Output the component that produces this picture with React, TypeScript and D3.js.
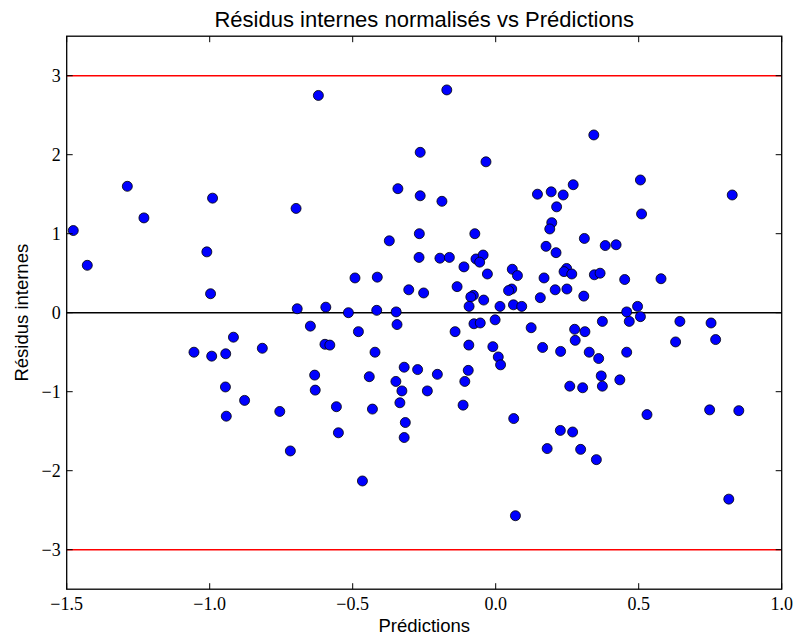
import React from 'react';
import * as d3 from 'd3';

// Predictions (x) and normalised internal residuals (y)
const predictions = [
  -1.477, -1.428, -1.288, -1.23, -0.99, -1.01, -0.997, -0.698, -0.694, -0.917,
  -1.055, -0.993, -0.944, -0.816, -0.945, -0.878, -0.942, -0.755, -0.718, -0.62,
  -0.171, -0.264, -0.034, -0.342, -0.264, -0.188, -0.372, -0.267, -0.073, 0.146,
  0.343, 0.506, 0.827, 0.51, 0.194, 0.236, 0.271, 0.213, 0.196, 0.189,
  0.31, 0.176, 0.383, 0.421, 0.211, -0.268, -0.195, -0.162, -0.111, -0.069,
  -0.044, -0.056, -0.029, -0.492, -0.414, -0.304, -0.252, -0.135, 0.058, 0.076,
  0.169, 0.056, 0.045, -0.078, -0.087, -0.042, -0.093, 0.015, 0.062, 0.091,
  0.156, -0.594, -0.515, -0.416, -0.348, -0.648, -0.345, -0.48, -0.142, -0.076,
  -0.054, -0.002, 0.124, 0.164, -0.597, -0.58, -0.422, -0.094, -0.01, 0.009,
  0.017, -0.32, -0.273, -0.204, -0.096, -0.633, -0.442, -0.349, -0.108, -0.631,
  -0.328, -0.239, -0.557, -0.431, -0.335, -0.114, 0.063, -0.316, -0.55, -0.32,
  -0.466, 0.069, 0.248, 0.239, 0.266, 0.345, 0.365, 0.451, 0.578, 0.208,
  0.249, 0.308, 0.496, 0.458, 0.506, 0.467, 0.373, 0.644, 0.753, 0.276,
  0.312, 0.278, 0.629, 0.769, 0.227, 0.327, 0.458, 0.36, 0.369, 0.434,
  0.259, 0.304, 0.373, 0.529, 0.748, 0.85, 0.226, 0.269, 0.18, 0.297,
  0.352, 0.815,
];
const residus = [
  1.04, 0.6, 1.6, 1.2, 1.45, 0.77, 0.24, 1.32, 0.05, -0.31,
  -0.5, -0.55, -0.52, -0.45, -0.94, -1.11, -1.31, -1.25, -1.75, 2.75,
  2.82, 2.03, 1.91, 1.57, 1.48, 1.41, 0.91, 1.0, 1.0, 1.5,
  2.25, 1.68, 1.49, 1.25, 1.53, 1.49, 1.62, 1.34, 1.14, 1.06,
  0.94, 0.84, 0.85, 0.86, 0.76, 0.7, 0.69, 0.7, 0.58, 0.68,
  0.73, 0.64, 0.49, 0.44, 0.45, 0.29, 0.25, 0.33, 0.55, 0.47,
  0.44, 0.3, 0.28, 0.22, 0.2, 0.16, 0.08, 0.08, 0.1, 0.08,
  0.19, 0.07, 0.0, 0.03, 0.01, -0.17, -0.15, -0.24, -0.24, -0.14,
  -0.13, -0.09, -0.19, -0.44, -0.4, -0.41, -0.5, -0.41, -0.43, -0.56,
  -0.66, -0.69, -0.72, -0.78, -0.73, -0.79, -0.81, -0.87, -0.87, -0.98,
  -0.99, -0.99, -1.19, -1.22, -1.14, -1.17, -1.34, -1.39, -1.52, -1.58,
  -2.13, -2.57, 0.56, 0.52, 0.49, 0.48, 0.5, 0.42, 0.43, 0.29,
  0.3, 0.21, 0.08, 0.01, -0.05, -0.11, -0.11, -0.11, -0.13, -0.21,
  -0.24, -0.35, -0.37, -0.34, -0.49, -0.5, -0.5, -0.58, -0.8, -0.85,
  -0.93, -0.95, -0.93, -1.29, -1.23, -1.24, -1.49, -1.51, -1.72, -1.73,
  -1.86, -2.36,
];

const xTicks = [-1.5, -1.0, -0.5, 0.0, 0.5, 1.0];
const yTicks = [-3, -2, -1, 0, 1, 2, 3];
const limits = [-3, 3];

const W = 795;
const H = 637;
const left = 66.7;
const right = 781.7;
const top = 36.2;
const bottom = 589.2;

const App: React.FC = () => {
  const x = d3.scaleLinear().domain([-1.5, 1.0]).range([left, right]);
  const y = d3.scaleLinear().domain([-3.5, 3.5]).range([bottom, top]);
  const tickLen = 6;
  const serif = '"Liberation Serif", "DejaVu Serif", serif';
  const sans = '"Liberation Sans", Arial, sans-serif';
  const fmtMinus = (s: string) => s.replace('-', '\u2212');

  return (
    <svg width={W} height={H} style={{ position: 'absolute', left: 0, top: 0, background: '#fff' }}>
      {/* reference lines */}
      {limits.map((v) => (
        <line key={'lim' + v} x1={left} x2={right} y1={y(v)} y2={y(v)} stroke="#ff0000" strokeWidth={1.5} />
      ))}
      <line x1={left} x2={right} y1={y(0)} y2={y(0)} stroke="#000" strokeWidth={1.5} />

      {/* points */}
      {predictions.map((p, i) => (
        <circle key={i} cx={x(p)} cy={y(residus[i])} r={5} fill="#0000ff" stroke="#000" strokeWidth={0.8} />
      ))}

      {/* frame */}
      <rect x={left} y={top} width={right - left} height={bottom - top} fill="none" stroke="#000" strokeWidth={1.3} />

      {/* x ticks */}
      {xTicks.map((t) => (
        <g key={'x' + t}>
          <line x1={x(t)} x2={x(t)} y1={bottom} y2={bottom - tickLen} stroke="#000" strokeWidth={1} />
          <line x1={x(t)} x2={x(t)} y1={top} y2={top + tickLen} stroke="#000" strokeWidth={1} />
          <text x={x(t)} y={bottom + 21} textAnchor="middle" fontFamily={serif} fontSize={18} fill="#000">
            {fmtMinus(d3.format('.1f')(t))}
          </text>
        </g>
      ))}

      {/* y ticks */}
      {yTicks.map((t) => (
        <g key={'y' + t}>
          <line x1={left} x2={left + tickLen} y1={y(t)} y2={y(t)} stroke="#000" strokeWidth={1} />
          <line x1={right} x2={right - tickLen} y1={y(t)} y2={y(t)} stroke="#000" strokeWidth={1} />
          <text x={left - 6} y={y(t)} dy="0.35em" textAnchor="end" fontFamily={serif} fontSize={18} fill="#000">
            {fmtMinus(d3.format('d')(t))}
          </text>
        </g>
      ))}

      {/* labels */}
      <text x={(left + right) / 2} y={27} textAnchor="middle" fontFamily={sans} fontSize={22} fill="#000">
        Résidus internes normalisés vs Prédictions
      </text>
      <text x={(left + right) / 2} y={632} textAnchor="middle" fontFamily={sans} fontSize={18.5} fill="#000">
        Prédictions
      </text>
      <text
        transform={`translate(28, ${(top + bottom) / 2}) rotate(-90)`}
        textAnchor="middle"
        fontFamily={sans}
        fontSize={18.5}
        fill="#000"
      >
        Résidus internes
      </text>
    </svg>
  );
};

export default App;
